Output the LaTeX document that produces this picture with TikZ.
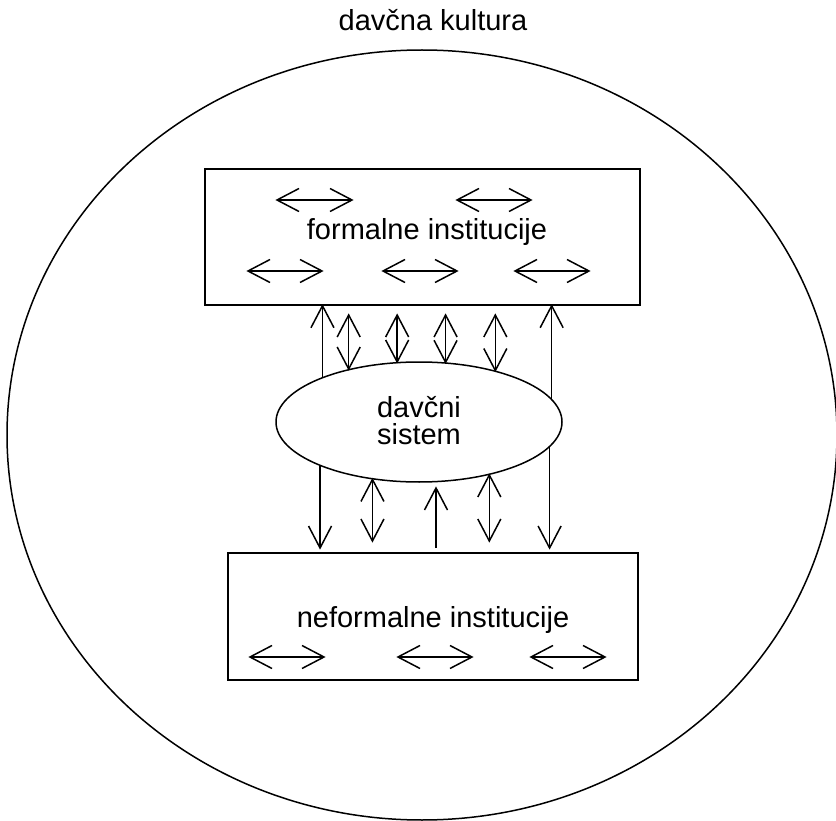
\documentclass[tikz,border=0pt]{standalone}
\usepackage{fontspec}
\setmainfont{Liberation Sans}
\usetikzlibrary{arrows.meta,shapes.geometric,calc}
\pgfdeclarearrow{
  name = OpenVee,
  defaults = {length = +22pt, width = +22pt},
  setup code = {
    \pgfarrowssettipend{+0pt}
    \pgfarrowssetbackend{-\pgfarrowlength}
    \pgfarrowssetlineend{+0pt}
    \pgfarrowssavethe\pgfarrowlength
    \pgfarrowssavethe\pgfarrowwidth
  },
  drawing code = {
    \pgfsetdash{}{+0pt}
    \pgfsetmiterjoin
    \pgfsetbuttcap
    \pgfpathmoveto{\pgfqpoint{-\pgfarrowlength}{.5\pgfarrowwidth}}
    \pgfpathlineto{\pgfqpoint{0pt}{0pt}}
    \pgfpathlineto{\pgfqpoint{-\pgfarrowlength}{-.5\pgfarrowwidth}}
    \pgfusepathqstroke
  },
  parameters = {\the\pgfarrowlength,\the\pgfarrowwidth},
}
\begin{document}
\begin{tikzpicture}[x=1pt,y=-1pt, line width=1.5pt,
  lbl/.style={font=\fontsize{29}{27}\selectfont, inner sep=0pt, align=center},
  box/.style={draw, rectangle, inner sep=0pt},
  oval/.style={draw, ellipse, inner sep=0pt},
  uni/.style={-{OpenVee[length=22pt,width=23pt]}},
  bi/.style={{OpenVee[length=22pt,width=23pt]}-{OpenVee[length=22pt,width=23pt]}}]
\useasboundingbox (0,0) rectangle (836,821);
% outer culture ellipse
\node[oval, minimum width=830pt, minimum height=770pt] (cult) at (422,435) {};
\node[lbl] (cultlbl) at (433,20) {davčna kultura};
% boxes
\node[box, minimum width=435pt, minimum height=136pt] (fbox) at (422.5,237) {};
\node[lbl] (flbl) at (427,232) {formalne institucije};
\node[box, minimum width=410pt, minimum height=127pt] (nbox) at (433,616.5) {};
\node[lbl] (nlbl) at (433,620) {neformalne institucije};
% tax system
\node[oval, minimum width=286pt, minimum height=120pt] (sys) at (419,422) {};
\node[lbl] (slbl) at (419,421) {davčni\\sistem};
% helper levels
\coordinate (ft) at (0,315);
\coordinate (nt) at (0,548);
\coordinate (nd) at (0,541);
\coordinate (up) at (436,488);
% top vertical connectors
\draw[uni] (sys.155.55) -- (sys.155.55 |- fbox.south);
\draw[bi] (sys.143.2) -- (sys.143.2 |- ft);
\draw[bi] (sys.110.4) -- (sys.110.4 |- ft);
\draw[bi] (sys.66.2) -- (sys.66.2 |- ft);
\draw[bi] (sys.34.7) -- (sys.34.7 |- ft);
\draw[uni] (sys.10.4) -- (sys.10.4 |- fbox.south);
% bottom vertical connectors
\draw[uni] (sys.204.45) -- (sys.204.45 |- nt);
\draw[bi] (sys.231) -- (sys.231 |- nd);
\draw[uni] (up |- nt) -- (up);
\draw[bi] (sys.323.7) -- (sys.323.7 |- nd);
\draw[uni] (sys.349.6) -- (sys.349.6 |- nt);
% horizontal arrows inside boxes
\draw[bi] (277,200) -- (352,200);
\draw[bi] (457,200) -- (531,200);
\draw[bi] (248,271) -- (322,271);
\draw[bi] (383,271) -- (457,271);
\draw[bi] (515,271) -- (589,271);
\draw[bi] (250,657) -- (324,657);
\draw[bi] (398,657) -- (472,657);
\draw[bi] (531,657) -- (605,657);
\end{tikzpicture}
\end{document}
